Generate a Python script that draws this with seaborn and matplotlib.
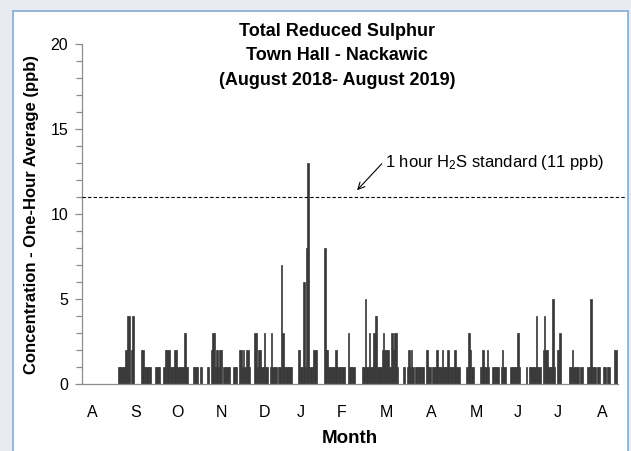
import matplotlib
matplotlib.use("Agg")
import matplotlib.pyplot as plt
import seaborn as sns
import pandas as pd
from matplotlib.patches import Rectangle
from matplotlib.ticker import MultipleLocator

# ---------------- data ----------------
# daily maximum of one-hour TRS averages (ppb), one value per record day on the
# chart's category axis (starts early August 2018)
trs_ppb = [
    0, 0, 0, 0, 0, 0, 0, 0, 0, 0, 0, 0, 0, 0, 0, 0, 0, 0, 0, 0,
    0, 0, 0, 0, 0, 0, 1, 1, 1, 1, 1, 2, 4, 4, 0, 2, 4, 0, 0, 0,
    0, 0, 2, 2, 1, 1, 1, 1, 1, 0, 0, 0, 1, 1, 1, 1, 0, 0, 1, 2,
    2, 2, 2, 1, 1, 1, 2, 2, 1, 1, 1, 1, 1, 3, 1, 1, 0, 0, 0, 1,
    1, 1, 1, 0, 1, 1, 0, 0, 0, 1, 1, 0, 2, 3, 3, 1, 2, 1, 2, 2,
    0, 1, 1, 1, 1, 1, 0, 0, 1, 1, 1, 0, 2, 2, 1, 2, 1, 2, 2, 1,
    0, 0, 0, 3, 3, 1, 2, 2, 1, 1, 3, 1, 1, 0, 1, 3, 1, 1, 1, 0,
    1, 1, 7, 3, 1, 1, 1, 1, 1, 1, 0, 0, 0, 0, 2, 2, 1, 1, 6, 1,
    8, 13, 1, 1, 1, 2, 2, 2, 0, 0, 0, 0, 0, 8, 2, 2, 1, 1, 1, 1,
    1, 2, 1, 1, 1, 1, 1, 1, 0, 0, 3, 1, 1, 1, 1, 0, 0, 0, 0, 0,
    1, 1, 5, 1, 1, 3, 1, 1, 3, 4, 4, 1, 1, 1, 2, 3, 2, 2, 2, 1,
    1, 3, 2, 3, 3, 1, 0, 0, 0, 1, 1, 0, 1, 2, 1, 2, 1, 0, 1, 1,
    1, 1, 1, 1, 0, 0, 2, 1, 1, 0, 1, 1, 1, 2, 1, 1, 1, 2, 1, 1,
    1, 2, 1, 1, 1, 1, 2, 1, 1, 1, 0, 0, 0, 0, 1, 1, 3, 2, 1, 1,
    0, 0, 0, 0, 1, 1, 2, 1, 1, 2, 1, 0, 0, 1, 1, 1, 1, 1, 0, 1,
    2, 1, 1, 0, 0, 0, 1, 1, 1, 1, 1, 3, 1, 0, 0, 0, 0, 1, 0, 1,
    1, 1, 1, 1, 4, 1, 1, 1, 0, 2, 4, 2, 2, 1, 1, 1, 5, 1, 0, 2,
    2, 3, 0, 0, 0, 0, 0, 0, 1, 1, 2, 1, 1, 1, 1, 0, 1, 1, 0, 0,
    0, 1, 1, 5, 1, 1, 1, 0, 1, 1, 0, 0, 1, 1, 0, 1, 1, 0, 0, 0,
    2, 2, 0,
]
record_day = list(range(len(trs_ppb)))

# month label positions on the record-day axis and their labels
month_pos = [7, 38, 68, 99, 130, 156, 185, 217, 249, 281, 311, 339, 371]
month_labels = ["A", "S", "O", "N", "D", "J", "F", "M", "A", "M", "J", "J", "A"]

STANDARD_PPB = 11
title_text = "Total Reduced Sulphur\nTown Hall - Nackawic\n(August 2018- August 2019)"
standard_text = "1 hour H$_{\\mathrm{2}}$S standard (11 ppb)"

# ---------------- styling ----------------
sns.set_theme(style="white")
plt.rcParams["font.family"] = ["Liberation Sans", "DejaVu Sans"]
plt.rcParams["mathtext.fontset"] = "custom"
plt.rcParams["mathtext.rm"] = "Liberation Sans"
plt.rcParams["mathtext.it"] = "Liberation Sans:italic"
plt.rcParams["mathtext.bf"] = "Liberation Sans:bold"

W, H = 631, 451
fig = plt.figure(figsize=(W / 100, H / 100), dpi=100, facecolor="#e8ecf2")

# white chart panel with thin blue frame
fig.patches.append(
    Rectangle((13 / W, -0.1), (628 - 13) / W, 1.1 - 11 / H,
              transform=fig.transFigure, facecolor="white",
              edgecolor="#84acd9", lw=1.2, zorder=-1)
)

ax = fig.add_axes([82 / W, 1 - 384 / H, (618 - 82) / W, (384 - 44) / H])
ax.set_facecolor("white")

df = pd.DataFrame({"day": record_day, "trs": trs_ppb})
sns.barplot(data=df, x="day", y="trs", native_scale=True, width=0.95,
            color="#383838", saturation=1, errorbar=None,
            edgecolor="#383838", linewidth=0.5, ax=ax)

ax.set_xlim(-0.5, len(trs_ppb) - 0.6)
ax.set_ylim(0, 20)

# axes / spines
for s in ["top", "right"]:
    ax.spines[s].set_visible(False)
ax.spines["left"].set_color("#8c8c8c")
ax.spines["bottom"].set_color("#8c8c8c")
ax.spines["left"].set_linewidth(0.9)
ax.spines["bottom"].set_linewidth(0.9)

ax.yaxis.set_major_locator(MultipleLocator(5))
ax.yaxis.set_minor_locator(MultipleLocator(1))
ax.tick_params(axis="y", which="both", left=True, direction="out",
               color="#8c8c8c", width=0.9, labelsize=11.5, labelcolor="black", pad=5)
ax.tick_params(axis="y", which="major", length=5)
ax.tick_params(axis="y", which="minor", length=4)

ax.set_xticks(month_pos, month_labels)
ax.tick_params(axis="x", which="both", bottom=False, length=0, pad=15,
               labelsize=11.5, labelcolor="black")

ax.set_xlabel("Month", fontsize=13.5, fontweight="bold", color="black", labelpad=7)
ax.set_ylabel("Concentration - One-Hour Average (ppb)", fontsize=12,
              fontweight="bold", color="black", labelpad=8)

# standard line
ax.axhline(STANDARD_PPB, xmin=0, xmax=(625 - 82) / (618 - 82), color="black",
           lw=0.8, ls=(0, (3, 2)), clip_on=False, zorder=3)
ax.annotate(standard_text, xy=(196, STANDARD_PPB + 0.4),
            xytext=(216, STANDARD_PPB + 2.05), ha="left", va="center",
            fontsize=12, color="black",
            arrowprops=dict(arrowstyle="->", color="black", lw=0.8,
                            shrinkA=0, shrinkB=0, relpos=(0, 0.6)))

fig.text(337 / W, 1 - 56 / H, title_text, ha="center", va="center",
         fontsize=13, fontweight="bold", linespacing=1.55, color="black")

fig.savefig("out.png", dpi=100, facecolor=fig.get_facecolor())
